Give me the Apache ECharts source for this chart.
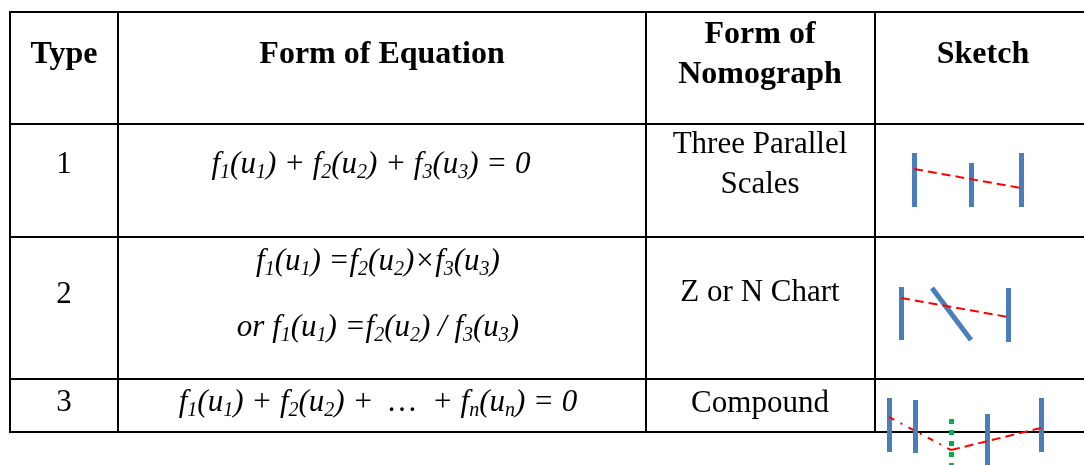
<!DOCTYPE html>
<html>
<head>
<meta charset="utf-8">
<style>
  html, body { margin: 0; padding: 0; background: #ffffff; }
  #chart { width: 1084px; height: 465px; }
</style>
<script src="https://cdn.jsdelivr.net/npm/echarts@6/dist/echarts.min.js"></script>
</head>
<body>
<div id="chart"></div>
<script>
// ---------- data ----------
const headers = ['Type', 'Form of Equation', 'Form of\nNomograph', 'Sketch'];
const types = ['1', '2', '3'];
// equations: rich-text strings, {s|..} = subscript
const equations = [
  ['f{s|1}(u{s|1}) + f{s|2}(u{s|2}) + f{s|3}(u{s|3}) = 0'],
  ['f{s|1}(u{s|1}) =f{s|2}(u{s|2})×f{s|3}(u{s|3})', 'or f{s|1}(u{s|1}) =f{s|2}(u{s|2}) / f{s|3}(u{s|3})'],
  ['f{s|1}(u{s|1}) + f{s|2}(u{s|2}) +  …  + f{s|n}(u{s|n}) = 0']
];
const nomographs = ['Three Parallel\nScales', 'Z or N Chart', 'Compound'];

// sketch geometry, in units relative to each sketch cell's top-left corner
const sketchScales = [
  [[[39, 29], [39, 83]], [[96, 39], [96, 83]], [[146, 29], [146, 83]]],
  [[[26, 50], [26, 103]], [[57, 51], [96, 103]], [[133, 51], [133, 105]]],
  [[[14, 19], [14, 73]], [[40, 21], [40, 74]], [[112, 35], [112, 95]], [[166, 19], [166, 73]]]
];
const sketchIndexLines = [
  [[[39, 45], [146, 64]]],
  [[[26, 61], [133, 80]]],
  [[[14, 38], [76, 71]], [[76, 71], [166, 49]]]
];
const sketchTurningAxis = [[[76, 40], [76, 95]]]; // row 3 only (green dotted)

// ---------- layout ----------
const W = 1084, H = 465;
const colX = [10, 118, 646, 875, 1092];
const rowY = [12, 124, 237, 379, 432];
const colC = [64, 382, 760, 983];
const headerY = 55;
const rowTextY = [165, 295, 403];
const eqLineY = [[165], [262, 328], [403]];
const eqShiftX = [-11, -4, -4];

const serif = 'Liberation Serif, Times New Roman, serif';

// table lines
const tableLines = [];
rowY.forEach(function (y) { tableLines.push({ coords: [[colX[0], y], [colX[colX.length - 1], y]] }); });
colX.forEach(function (x) { tableLines.push({ coords: [[x, rowY[0]], [x, rowY[rowY.length - 1]]] }); });

function shift(seg, r) {
  const ox = colX[3], oy = rowY[r + 1];
  return { coords: seg.map(function (p) { return [ox + p[0], oy + p[1]]; }) };
}
const scaleData = [], indexDashed = [], indexDashDot = [], greenData = [];
sketchScales.forEach(function (row, r) { row.forEach(function (seg) { scaleData.push(shift(seg, r)); }); });
sketchIndexLines.forEach(function (row, r) {
  row.forEach(function (seg, k) {
    if (r === 2 && k === 0) indexDashDot.push(shift(seg, r));
    else indexDashed.push(shift(seg, r));
  });
});
sketchTurningAxis.forEach(function (seg) { greenData.push(shift(seg, 2)); });

// text items
const texts = [];
headers.forEach(function (h, i) {
  texts.push({ value: [colC[i], headerY], label: { formatter: h, fontWeight: 'bold', fontSize: 32, lineHeight: 40 } });
});
types.forEach(function (t, r) {
  texts.push({ value: [colC[0], rowTextY[r]], label: { formatter: t } });
});
equations.forEach(function (lines, r) {
  lines.forEach(function (e, k) {
    texts.push({ value: [colC[1] + eqShiftX[r], eqLineY[r][k]], label: { formatter: e, fontStyle: 'italic', fontSize: 31 } });
  });
});
nomographs.forEach(function (n, r) {
  texts.push({ value: [colC[2], rowTextY[r] + (r === 1 ? -2 : 0) + (r === 2 ? 1 : 0)], label: { formatter: n, lineHeight: 40 } });
});

const chart = echarts.init(document.getElementById('chart'), null, { renderer: 'canvas' });
chart.setOption({
  backgroundColor: '#ffffff',
  animation: false,
  grid: { left: 0, right: 0, top: 0, bottom: 0 },
  xAxis: { type: 'value', min: 0, max: W, show: false },
  yAxis: { type: 'value', min: 0, max: H, inverse: true, show: false },
  series: [
    {
      type: 'lines', coordinateSystem: 'cartesian2d', silent: true, clip: false,
      lineStyle: { color: '#000000', width: 2, opacity: 1, cap: 'square' },
      data: tableLines
    },
    {
      type: 'lines', coordinateSystem: 'cartesian2d', silent: true, clip: false,
      lineStyle: { color: '#4a7ebb', width: 5, opacity: 1, cap: 'butt' },
      data: scaleData
    },
    {
      type: 'lines', coordinateSystem: 'cartesian2d', silent: true, clip: false,
      lineStyle: { color: '#00b050', width: 5, opacity: 1, type: [5, 6], cap: 'butt' },
      data: greenData
    },
    {
      type: 'lines', coordinateSystem: 'cartesian2d', silent: true, clip: false,
      lineStyle: { color: '#ff0000', width: 2, opacity: 1, type: [9, 5] },
      data: indexDashed
    },
    {
      type: 'lines', coordinateSystem: 'cartesian2d', silent: true, clip: false,
      lineStyle: { color: '#ff0000', width: 2, opacity: 1, type: [6, 7, 2, 7] },
      data: indexDashDot
    },
    {
      type: 'scatter', silent: true, symbolSize: 0,
      itemStyle: { opacity: 1 },
      label: {
        show: true, position: 'inside', align: 'center', verticalAlign: 'middle',
        color: '#000000', fontFamily: serif, fontSize: 31, lineHeight: 36,
        rich: {
          s: { fontFamily: serif, fontStyle: 'italic', fontSize: 20, lineHeight: 24, verticalAlign: 'bottom', color: '#000000' }
        }
      },
      data: texts
    }
  ]
});
</script>
</body>
</html>
